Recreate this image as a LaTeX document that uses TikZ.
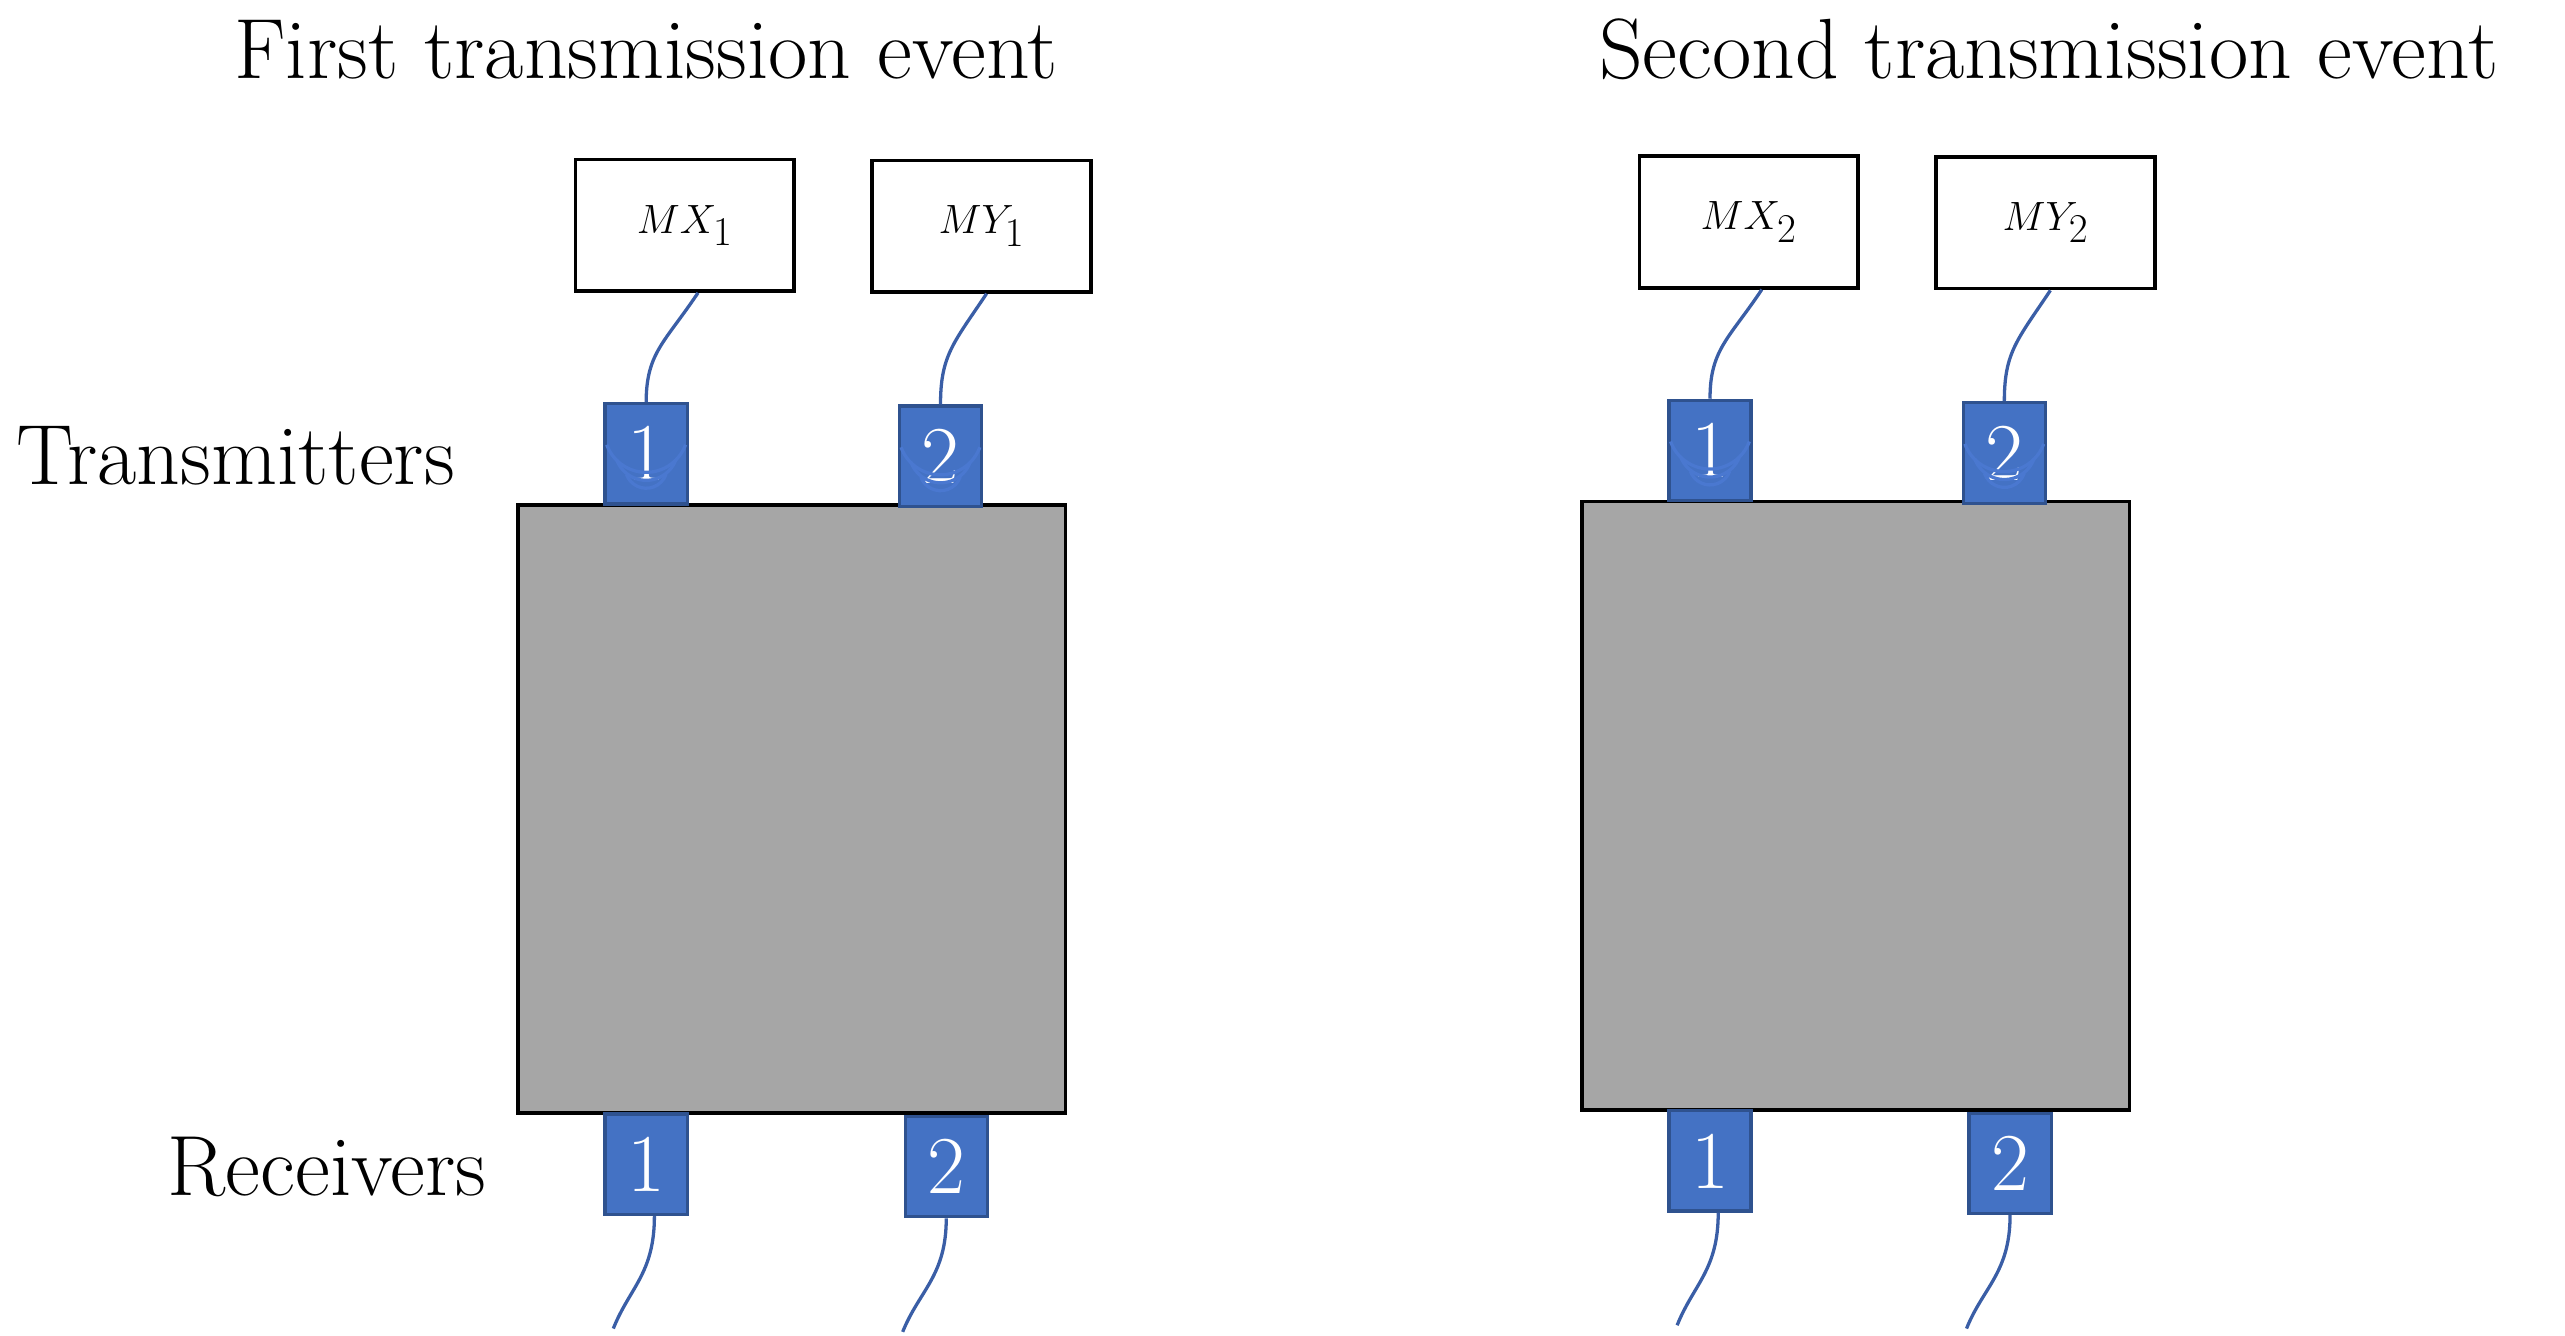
\documentclass[tikz,border=0pt]{standalone}
\usepackage{amsmath}
\begin{document}
\definecolor{tblue}{HTML}{4472C4}
\definecolor{tborder}{HTML}{2F528F}
\definecolor{wire}{HTML}{3A5EA6}
\definecolor{wave}{HTML}{4A78D0}
\definecolor{chamber}{HTML}{A6A6A6}
\begin{tikzpicture}[x=1pt,y=-1pt,
  port/.style={draw=tborder,line width=2pt,fill=tblue,minimum width=50pt,minimum height=61pt,inner sep=0pt,text=white,font=\fontsize{50}{50}\selectfont},
  mbox/.style={draw=black,line width=2.2pt,fill=white,minimum width=133pt,minimum height=80pt,inner sep=0pt,font=\fontsize{46}{46}\selectfont},
  chamb/.style={draw=black,line width=2.2pt,fill=chamber},
  cable/.style={draw=wire,line width=2pt},
  wav/.style={draw=wave,line width=2pt},
  lbl/.style={font=\fontsize{52}{52}\selectfont,inner sep=0pt}]
\useasboundingbox (0,0) rectangle (1560,812);
\newcommand{\mypanel}[4]{% #1 xshift, #2 yshift, #3 subscript, #4 prefix
\begin{scope}[shift={(#1,#2)}]
  \node[chamb,minimum width=333pt,minimum height=370pt,inner sep=0pt] (#4ch) at (481.5,492) {};
  \node[mbox] (#4mx) at (416.5,137) {$MX_{#3}$};
  \node[mbox] (#4my) at (597,137.5) {$MY_{#3}$};
  \node[port] (#4t1) at (393,276) {1};
  \node[port] (#4t2) at (572,277.5) {2};
  \node[port] (#4r1) at (393,708) {1};
  \node[port] (#4r2) at (575.5,709.5) {2};
  \coordinate (#4e1) at (373,808);
  \coordinate (#4e2) at (549,810);
  \draw[cable] (#4mx.south)++(8,0) .. controls +(-20,30) and +(0,-30) .. (#4t1.north);
  \draw[cable] (#4my.south)++(3,0) .. controls +(-20,30) and +(0,-30) .. (#4t2.north);
  \draw[cable] (#4r1.south)++(5,0) .. controls +(0,35) and +(10,-25) .. (#4e1);
  \draw[cable] (#4r2.south) .. controls +(0,35) and +(10,-25) .. (#4e2);
  \foreach \p in {t1,t2}{
    \draw[wav] ([xshift=-12pt,yshift=19pt]#4\p.south) arc[start angle=200,end angle=340,radius=12.8pt];
    \draw[wav] ([xshift=-18pt,yshift=28pt]#4\p.south) arc[start angle=200,end angle=340,radius=19.2pt];
    \draw[wav] ([xshift=-24pt,yshift=37pt]#4\p.south) arc[start angle=200,end angle=340,radius=25.5pt];
  }
\end{scope}}
\mypanel{0}{0}{1}{a}
\mypanel{647}{-2}{2}{b}
\node[lbl,anchor=base] (ttl1) at (393,48) {First transmission event};
\node[lbl,anchor=base] (ttl2) at (1246,48) {Second transmission event};
\node[lbl,anchor=west] (ltx) at (10,277) {Transmitters};
\node[lbl,anchor=east] (lrx) at (296,710) {Receivers};
\end{tikzpicture}
\end{document}
